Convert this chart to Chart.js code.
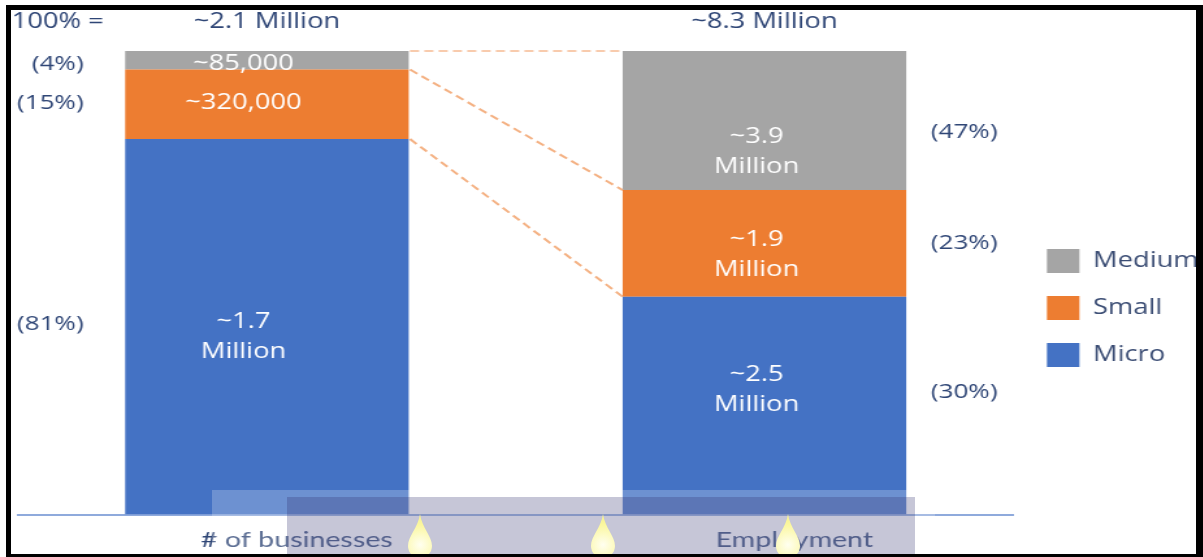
<!DOCTYPE html>
<html>
<head>
<meta charset="utf-8">
<title>Businesses and employment by size</title>
<script src="https://cdn.jsdelivr.net/npm/chart.js@4.4.1/dist/chart.umd.min.js"></script>
<style>
  html, body { margin: 0; padding: 0; background: #fff; width: 1203px; height: 557px; overflow: hidden; }
  #stage { position: absolute; left: 0; top: 0; width: 1203px; height: 557px; overflow: hidden; }
  /* the slide screenshot is stretched sideways, so the canvas is too */
  #stretch { position: absolute; left: 0; top: 0; transform: scaleX(1.3); transform-origin: 0 0; }
  .frame {
    position: absolute; left: 6px; top: 5px; width: 1197px; height: 552px; box-sizing: border-box;
    border-style: solid; border-color: #000; border-width: 5px 7px 3px 5px; pointer-events: none;
  }
  /* video-player overlay sitting over the bottom of the slide */
  .glass { position: absolute; left: 212px; top: 490px; width: 723px; height: 67px; background: rgba(255,255,255,0.22); }
  .shade { position: absolute; left: 287px; top: 497px; width: 628px; height: 60px; background: rgba(50,50,110,0.28); }
  .drop {
    position: absolute; top: 514px; width: 24px; height: 44px;
    background: radial-gradient(circle at 50% 70%, #fffff0 0%, #fbf7a0 60%, #f3ee8a 100%);
    clip-path: path('M12 0 C 14 14, 24 22, 24 32 A 12 12 0 0 1 0 32 C 0 22, 10 14, 12 0 Z');
  }
</style>
</head>
<body>
<div id="stage">
  <div id="stretch"><canvas id="chart" width="960" height="570"></canvas></div>
  <div class="glass"></div>
  <div class="shade"></div>
  <div class="drop" style="left:408px"></div>
  <div class="drop" style="left:591px"></div>
  <div class="drop" style="left:776px"></div>
  <div class="frame"></div>
</div>
<script>
// categories + bar heights as drawn on the slide (% of each bar)
const categories = ["# of businesses", "Employment"];
const sizeNames = ["Micro", "Small", "Medium"];
const microShare = [81, 47];
const smallShare = [15, 23];
const mediumShare = [4, 30];

// text printed on the slide
const totalLabels = ["~2.1 Million", "~8.3 Million"];
const microText = [["~1.7", "Million"], ["~2.5", "Million"]];
const smallText = [["~320,000"], ["~1.9", "Million"]];
const mediumText = [["~85,000"], ["~3.9", "Million"]];
const microPct = ["(81%)", "(30%)"];
const smallPct = ["(15%)", "(23%)"];
const mediumPct = ["(4%)", "(47%)"];

const navy = "#2f4676";
const FONT = "'Open Sans', 'Noto Sans', sans-serif";

Chart.defaults.font.family = FONT;

// connectors, in-bar text, side percentages, totals
const slideText = {
  id: "slideText",
  afterLayout(chart) {
    // legend sits a little further from the plot on the slide
    chart.legend.left += 3;
    chart.legend.right += 3;
  },
  afterDatasetsDraw(chart) {
    const { ctx, chartArea } = chart;
    const metas = [0, 1, 2].map((d) => chart.getDatasetMeta(d));
    const texts = [microText, smallText, mediumText];
    const pcts = [microPct, smallPct, mediumPct];
    // small shifts so the text sits where the slide put it
    const nudgeX = [-18, -6];
    const nudgeY = [[10, -1, 4], [-16, 12, 31]];
    const pctNudgeY = [[-3, -1, 4], [-13, 0, 12]];

    ctx.save();

    // dashed lines joining the segment tops
    ctx.lineWidth = 2;
    ctx.setLineDash([7, 4]);
    metas.forEach((meta, d) => {
      const a = meta.data[0];
      const b = meta.data[1];
      ctx.strokeStyle = d === 2 ? "#f8cbad" : "#f4b183";
      ctx.beginPath();
      ctx.moveTo(a.x + a.width / 2 + 1, a.y);
      ctx.lineTo(b.x - b.width / 2, b.y);
      ctx.stroke();
    });
    ctx.setLineDash([]);

    // white values inside the bars
    ctx.textAlign = "center";
    ctx.textBaseline = "middle";
    ctx.fillStyle = "#fff";
    ctx.font = "21px " + FONT;
    metas.forEach((meta, d) => {
      meta.data.forEach((bar, i) => {
        const lines = texts[d][i];
        const cy = (bar.y + bar.base) / 2 + nudgeY[i][d];
        lines.forEach((t, k) => {
          ctx.fillText(t, bar.x + nudgeX[i], cy + (k - (lines.length - 1) / 2) * 30);
        });
      });
    });

    // percentages beside the bars
    ctx.fillStyle = navy;
    ctx.font = "20px " + FONT;
    metas.forEach((meta, d) => {
      meta.data.forEach((bar, i) => {
        const cy = (bar.y + bar.base) / 2 + pctNudgeY[i][d];
        if (i === 0) {
          ctx.textAlign = "right";
          ctx.fillText(pcts[d][i], bar.x - bar.width / 2 - 32, cy);
        } else {
          ctx.textAlign = "left";
          ctx.fillText(pcts[d][i], bar.x + bar.width / 2 + 19, cy);
        }
      });
    });

    // totals row
    ctx.font = "21px " + FONT;
    ctx.textAlign = "left";
    ctx.fillText("100% =", chartArea.left - 5, chartArea.top - 29);
    ctx.textAlign = "center";
    metas[0].data.forEach((bar, i) => {
      ctx.fillText(totalLabels[i], bar.x, chartArea.top - 29);
    });

    ctx.restore();
  },
};

new Chart(document.getElementById("chart"), {
  type: "bar",
  data: {
    labels: categories,
    datasets: [
      { label: sizeNames[0], data: microShare, backgroundColor: "#4472c4" },
      { label: sizeNames[1], data: smallShare, backgroundColor: "#ed7d31" },
      { label: sizeNames[2], data: mediumShare, backgroundColor: "#a5a5a5" },
    ].map((ds) => ({ ...ds, borderWidth: 0, barPercentage: 0.57, categoryPercentage: 1 })),
  },
  options: {
    responsive: false,
    animation: false,
    devicePixelRatio: 1,
    events: [],
    layout: { padding: { left: 14, top: 51, right: 31, bottom: 5 } },
    plugins: {
      tooltip: { enabled: false },
      legend: {
        position: "right",
        align: "center",
        reverse: true,
        labels: {
          boxWidth: 25,
          boxHeight: 24,
          padding: 23,
          color: "#3b4d74",
          font: { size: 21, family: FONT },
        },
      },
    },
    scales: {
      x: {
        stacked: true,
        grid: { display: false, drawTicks: false },
        border: { display: true, color: "#8faadc", width: 2 },
        ticks: {
          color: navy,
          padding: 12,
          labelOffset: 23,
          font: { size: 22, family: "Lato, 'Open Sans', sans-serif" },
        },
      },
      y: { stacked: true, display: false, min: 0, max: 100 },
    },
  },
  plugins: [slideText],
});
</script>
</body>
</html>
